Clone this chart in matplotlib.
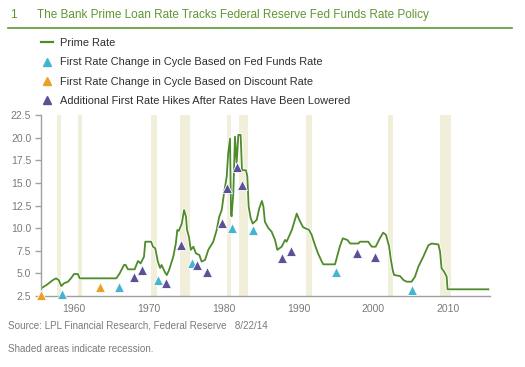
import matplotlib
matplotlib.use("Agg")
import matplotlib.pyplot as plt
from matplotlib.lines import Line2D
import matplotlib.patheffects as pe

plt.rcParams['font.family'] = ['Liberation Sans', 'DejaVu Sans']

# prime rate (x in chart years)
prime_year = [1955.6, 1956.3, 1957.2, 1957.6, 1957.95, 1958.3, 1958.66, 1959.2, 1959.64, 1960.0,
              1960.53, 1960.75, 1965.65, 1966.1, 1966.68, 1966.9, 1967.2, 1968.1, 1968.55, 1968.9,
              1969.35, 1969.52, 1970.3, 1970.55, 1970.85, 1971.2, 1971.5, 1971.7, 1972.16, 1972.4,
              1972.7, 1973.26, 1973.6, 1973.8, 1974.0, 1974.4, 1974.7, 1974.96, 1975.1, 1975.35,
              1975.6, 1975.94, 1976.3, 1976.74, 1977.05, 1977.5, 1977.94, 1978.6, 1979.06, 1979.4,
              1979.73, 1980.04, 1980.4, 1980.6, 1980.84, 1980.97, 1981.05, 1981.28, 1981.5, 1981.73,
              1981.95, 1982.26, 1982.44, 1982.97, 1983.15, 1983.33, 1983.6, 1983.87, 1984.4, 1984.75,
              1985.1, 1985.3, 1985.5, 1985.96, 1986.4, 1986.85, 1987.16, 1987.74, 1988.2, 1988.4,
              1989.1, 1989.75, 1990.1, 1990.6, 1991.4, 1991.75, 1992.2, 1992.6, 1993.1, 1993.3,
              1994.87, 1995.2, 1995.5, 1995.9, 1996.5, 1996.9, 1998.0, 1998.2, 1999.3, 1999.77,
              2000.3, 2000.85, 2001.3, 2001.68, 2002.1, 2002.3, 2002.57, 2002.75, 2003.55, 2004.0,
              2004.44, 2005.1, 2005.55, 2006.0, 2006.66, 2007.33, 2007.78, 2008.67, 2008.9, 2009.1,
              2009.43, 2009.78, 2009.9, 2015.35]
prime_rate = [3.35, 3.7, 4.27, 4.45, 4.27, 3.6, 3.9, 4.08, 4.5, 4.93,
              4.93, 4.45, 4.45, 5.0, 5.93, 5.93, 5.45, 5.45, 6.37, 6.1,
              6.85, 8.5, 8.5, 7.95, 7.77, 6.3, 5.6, 5.93, 5.1, 4.82,
              5.37, 6.85, 8.3, 9.8, 9.7, 10.5, 12.0, 11.26, 9.8, 9.05,
              7.6, 7.95, 7.2, 7.03, 6.3, 6.48, 7.6, 8.5, 9.8, 11.26,
              12.0, 13.85, 15.7, 18.3, 19.9, 11.6, 11.3, 13.85, 20.1, 17.2,
              20.3, 20.3, 16.4, 16.4, 15.7, 12.4, 11.1, 10.5, 10.9, 12.2,
              13.0, 12.4, 10.7, 10.0, 9.6, 8.7, 7.6, 7.95, 8.7, 8.5,
              9.8, 11.6, 10.9, 10.1, 9.8, 9.24, 8.1, 7.2, 6.3, 6.0,
              6.0, 7.03, 7.95, 8.87, 8.7, 8.3, 8.3, 8.5, 8.5, 7.95,
              7.95, 8.87, 9.5, 9.24, 7.95, 6.66, 5.37, 4.82, 4.7, 4.27,
              4.08, 4.08, 4.64, 5.74, 6.85, 8.1, 8.3, 8.2, 7.4, 5.56,
              5.2, 4.64, 3.24, 3.24]

fed_year = [1958.44, 1966.0, 1971.2, 1975.7, 1981.07, 1983.95, 1994.95, 2005.2]
fed_rate = [2.7, 3.5, 4.27, 6.1, 10.0, 9.8, 5.2, 3.16]

disc_year = [1955.55, 1963.5]
disc_rate = [2.6, 3.45]

hike_year = [1967.97, 1969.1, 1972.24, 1974.3, 1976.4, 1977.7, 1979.73, 1980.4,
             1981.73, 1982.4, 1987.74, 1988.99, 1997.76, 2000.2]
hike_rate = [4.64, 5.37, 3.9, 8.1, 5.93, 5.2, 10.6, 14.4,
             16.7, 14.8, 6.66, 7.47, 7.2, 6.85]

recessions = [(1957.77, 1958.26), (1960.49, 1961.11), (1970.24, 1971.13), (1974.2, 1975.5),
              (1980.48, 1980.93), (1982.04, 1983.28), (1991.0, 1991.8), (2002.0, 2002.57),
              (2008.89, 2010.36)]

y_ticks = [2.5, 5.0, 7.5, 10.0, 12.5, 15.0, 17.5, 20.0, 22.5]
x_ticks = [1960, 1970, 1980, 1990, 2000, 2010]

green = '#4f8a2b'
title_green = '#5e9732'
cyan = '#45b4d3'
orange = '#e9a024'
purple = '#5a5298'
gray = '#7a7a7a'

fig = plt.figure(figsize=(5.25, 3.67), dpi=100)
ax = fig.add_axes([41 / 525, 1 - 296 / 367, 449 / 525, 181 / 367])

for a, b in recessions:
    ax.axvspan(a, b, color='#f1efd9', lw=0, zorder=0)

ax.plot(prime_year, prime_rate, color=green, lw=1.3, zorder=2,
        path_effects=[pe.Stroke(linewidth=2.6, foreground='white'), pe.Normal()])

mk = dict(marker='^', ls='none', ms=7.5, mec='white', mew=0.6, zorder=3, clip_on=False)
ax.plot(fed_year, fed_rate, color=cyan, **mk)
ax.plot(disc_year, disc_rate, color=orange, **mk)
ax.plot(hike_year, hike_rate, color=purple, **mk)

ax.set_xlim(1955.59, 2015.57)
ax.set_ylim(2.5, 22.5)
ax.set_yticks(y_ticks)
ax.set_yticklabels(['%.1f' % v for v in y_ticks])
ax.set_xticks(x_ticks)
for s in ['top', 'right']:
    ax.spines[s].set_visible(False)
for s in ['left', 'bottom']:
    ax.spines[s].set_color('#a0a0a0')
    ax.spines[s].set_linewidth(1.0)
ax.tick_params(axis='y', colors='#a0a0a0', length=4, width=1, labelcolor=gray, labelsize=7.5, pad=3)
ax.tick_params(axis='x', length=0, labelcolor=gray, labelsize=7.5, pad=6)

# title bar
fig.text(10 / 525, 1 - 15 / 367, '1', color=title_green, fontsize=8.5, va='center')
fig.text(37 / 525, 1 - 15 / 367, 'The Bank Prime Loan Rate Tracks Federal Reserve Fed Funds Rate Policy',
         color=title_green, fontsize=8.5, va='center')
fig.add_artist(Line2D([8 / 525, 512 / 525], [1 - 28 / 367, 1 - 28 / 367], color=title_green, lw=1.2))

handles = [Line2D([], [], color=green, lw=1.6),
           Line2D([], [], color=cyan, marker='^', ls='none', ms=6),
           Line2D([], [], color=orange, marker='^', ls='none', ms=6),
           Line2D([], [], color=purple, marker='^', ls='none', ms=6)]
labels = ['Prime Rate',
          'First Rate Change in Cycle Based on Fed Funds Rate',
          'First Rate Change in Cycle Based on Discount Rate',
          'Additional First Rate Hikes After Rates Have Been Lowered']
fig.legend(handles, labels, loc='upper left', bbox_to_anchor=(41 / 525, 1 - 38 / 367),
           frameon=False, fontsize=7.9, handlelength=1.1, handletextpad=0.6,
           labelspacing=0.86, borderpad=0, borderaxespad=0, labelcolor='#2e2e2e')

fig.text(8 / 525, 1 - 326 / 367, 'Source: LPL Financial Research, Federal Reserve   8/22/14',
         color=gray, fontsize=7.1, va='center')
fig.text(8 / 525, 1 - 349 / 367, 'Shaded areas indicate recession.', color=gray, fontsize=7.1, va='center')

fig.savefig('out.png', dpi=100)
